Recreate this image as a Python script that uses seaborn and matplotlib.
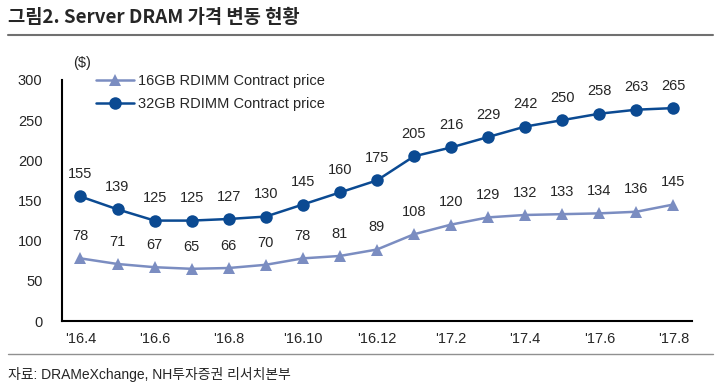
import matplotlib
matplotlib.use('Agg')
import matplotlib.pyplot as plt
import pandas as pd
import seaborn as sns

months = ["'16.4", "'16.5", "'16.6", "'16.7", "'16.8", "'16.9", "'16.10", "'16.11", "'16.12",
          "'17.1", "'17.2", "'17.3", "'17.4", "'17.5", "'17.6", "'17.7", "'17.8"]
price_16gb = [78, 71, 67, 65, 66, 70, 78, 81, 89, 108, 120, 129, 132, 133, 134, 136, 145]
price_32gb = [155, 139, 125, 125, 127, 130, 145, 160, 175, 205, 216, 229, 242, 250, 258, 263, 265]
series_names = ['16GB RDIMM Contract price', '32GB RDIMM Contract price']

sns.set_style('white')
plt.rcParams['font.family'] = ['Liberation Sans', 'Noto Sans CJK KR', 'DejaVu Sans']

df = pd.DataFrame({
    'idx': list(range(len(months))) * 2,
    'price': price_16gb + price_32gb,
    'series': [series_names[0]] * len(months) + [series_names[1]] * len(months),
})

fig = plt.figure(figsize=(7.2, 3.92), dpi=100)
ax = fig.add_axes([0.086, 0.181, 0.875, 0.615])

colors = {series_names[0]: '#7b8dc1', series_names[1]: '#0b4a92'}
sns.lineplot(data=df, x='idx', y='price', hue='series', style='series',
             markers={series_names[0]: '^', series_names[1]: 'o'}, dashes=False,
             palette=colors, markersize=9, linewidth=1.8, markeredgewidth=0, ax=ax)

for i, v in enumerate(price_16gb):
    ax.annotate(str(v), (i, v), xytext=(0, 11), textcoords='offset points',
                ha='center', va='bottom', fontsize=10.5)
for i, v in enumerate(price_32gb):
    ax.annotate(str(v), (i, v), xytext=(0, 11), textcoords='offset points',
                ha='center', va='bottom', fontsize=10.5)

ax.set_xlim(-0.5, len(months) - 0.5)
ax.set_ylim(0, 300)
ax.set_yticks(range(0, 301, 50))
ax.set_xticks(range(0, len(months), 2))
ax.set_xticklabels(months[::2], fontsize=10.5)
ax.set_xticks([i + 0.5 for i in range(1, len(months) - 1, 2)], minor=True)
ax.tick_params(axis='x', which='major', length=0, pad=8)
ax.tick_params(axis='x', which='minor', direction='in', length=5, width=1, color='black')
ax.tick_params(axis='y', direction='in', length=4, width=1, color='black', labelsize=10.5, pad=14)
ax.set_xlabel('')
ax.set_ylabel('')
for s in ['top', 'right']:
    ax.spines[s].set_visible(False)
for s in ['left', 'bottom']:
    ax.spines[s].set_color('black')
    ax.spines[s].set_linewidth(1.5)

ax.legend(loc='upper left', bbox_to_anchor=(0.045, 1.05), frameon=False, fontsize=10.5,
          handlelength=2.6, handletextpad=0.3, labelspacing=0.65, borderaxespad=0)

fig.text(0.114, 0.84, '($)', fontsize=10.5, ha='center', va='center')

fig.text(0.011, 0.955, '그림2. Server DRAM 가격 변동 현황', fontsize=13.5, fontweight='bold',
         family=['Noto Sans CJK KR'], va='center')
fig.add_artist(plt.Line2D([0.011, 0.99], [0.91, 0.91], color='#707070', linewidth=1.5))
fig.add_artist(plt.Line2D([0.011, 0.99], [0.097, 0.097], color='#909090', linewidth=1))
fig.text(0.011, 0.045, '자료: DRAMeXchange, NH투자증권 리서치본부', fontsize=10,
         family=['Liberation Sans', 'Noto Sans CJK KR'], va='center')

fig.savefig('out.png', dpi=100)
